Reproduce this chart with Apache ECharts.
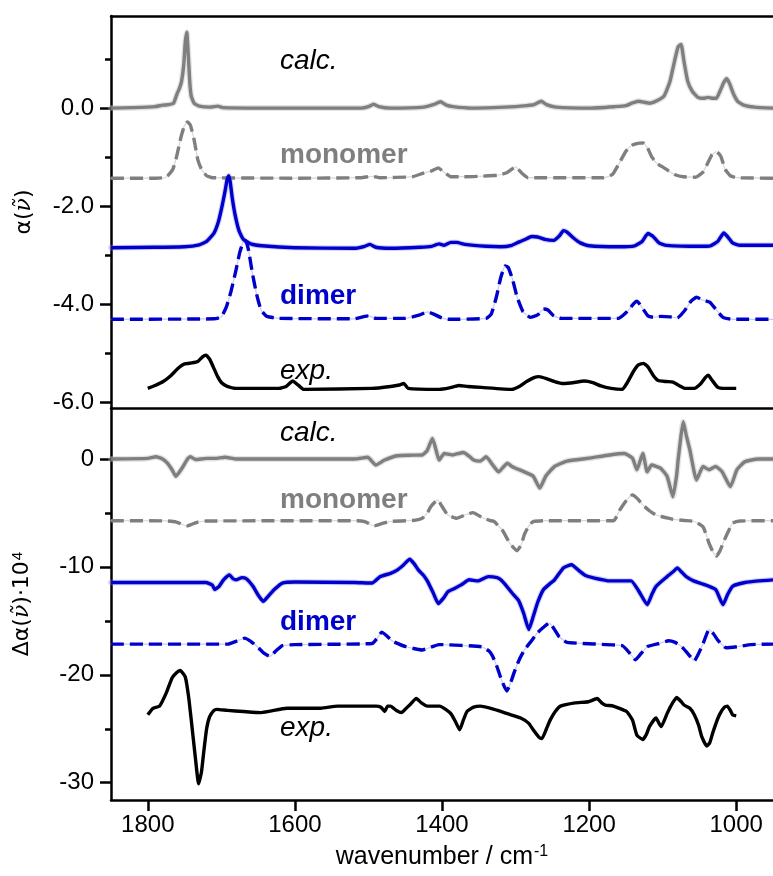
<!DOCTYPE html>
<html>
<head>
<meta charset="utf-8">
<script src="https://cdn.jsdelivr.net/npm/echarts@6/dist/echarts.min.js"></script>
<style>
html,body{margin:0;padding:0;background:#fff;}
#c{width:773px;height:876px;}
</style>
</head>
<body>
<div id="c"></div>
<script>
// ---------- data (wavenumber / cm-1, value) ----------
const xTicks = [1800, 1600, 1400, 1200, 1000];
const topMajor = [0, -2, -4, -6];
const topMinor = [1, -1, -3, -5];
const botMajor = [0, -10, -20, -30];
const botMinor = [-5, -15, -25];

// top panel: absorption alpha(nu), offset traces
const calcTop = [[1850,0],[1820,0.01],[1790,0.03],[1780,0.06],[1772,0.07],[1765,0.1],[1760,0.3],[1757,0.4],[1754,0.55],[1751,0.9],[1749,1.35],[1747,1.55],[1745,1.1],[1743,0.55],[1741,0.25],[1737,0.1],[1730,0.04],[1715,0.02],[1705,0.04],[1698,0.01],[1650,0],[1600,0],[1510,0],[1500,0.03],[1493,0.08],[1486,0.03],[1470,0],[1425,0.02],[1412,0.07],[1402,0.13],[1394,0.06],[1385,0.03],[1360,0],[1330,0.01],[1300,0.03],[1285,0.05],[1275,0.07],[1265,0.14],[1258,0.07],[1245,0.02],[1200,0],[1165,0.03],[1150,0.05],[1142,0.1],[1133,0.14],[1125,0.12],[1118,0.1],[1108,0.15],[1098,0.25],[1090,0.55],[1084,0.95],[1079,1.25],[1075,1.3],[1071,0.95],[1066,0.55],[1060,0.35],[1052,0.22],[1045,0.2],[1038,0.22],[1032,0.2],[1027,0.2],[1022,0.35],[1017,0.52],[1013,0.6],[1009,0.5],[1004,0.3],[998,0.14],[990,0.06],[975,0.02],[950,0]];
const monoTop = [[1850,-1.43],[1790,-1.43],[1775,-1.41],[1766,-1.25],[1761,-1.0],[1755,-0.6],[1750,-0.35],[1746,-0.28],[1742,-0.35],[1737,-0.65],[1732,-1.05],[1727,-1.25],[1720,-1.38],[1712,-1.42],[1600,-1.43],[1510,-1.42],[1496,-1.39],[1485,-1.42],[1440,-1.4],[1426,-1.33],[1414,-1.28],[1405,-1.22],[1398,-1.3],[1388,-1.4],[1370,-1.4],[1347,-1.39],[1325,-1.37],[1312,-1.32],[1300,-1.2],[1292,-1.32],[1283,-1.42],[1180,-1.42],[1168,-1.35],[1160,-1.15],[1150,-0.88],[1142,-0.76],[1134,-0.72],[1127,-0.71],[1121,-0.8],[1115,-0.99],[1108,-1.13],[1100,-1.2],[1092,-1.28],[1083,-1.36],[1072,-1.4],[1055,-1.41],[1045,-1.3],[1039,-1.13],[1033,-0.95],[1027,-0.89],[1021,-0.98],[1015,-1.25],[1008,-1.38],[999,-1.42],[950,-1.43]];
const dimerTop = [[1850,-2.85],[1790,-2.84],[1750,-2.83],[1730,-2.79],[1720,-2.72],[1710,-2.55],[1704,-2.32],[1699,-2.0],[1695,-1.7],[1692,-1.45],[1690,-1.38],[1688,-1.5],[1685,-1.85],[1681,-2.2],[1676,-2.5],[1670,-2.68],[1660,-2.77],[1645,-2.81],[1600,-2.85],[1519,-2.86],[1505,-2.82],[1498,-2.78],[1490,-2.84],[1470,-2.86],[1430,-2.84],[1414,-2.82],[1404,-2.77],[1397,-2.8],[1388,-2.74],[1380,-2.74],[1369,-2.78],[1340,-2.82],[1320,-2.83],[1305,-2.8],[1295,-2.73],[1287,-2.68],[1278,-2.62],[1270,-2.63],[1260,-2.68],[1248,-2.7],[1240,-2.6],[1235,-2.5],[1230,-2.53],[1222,-2.64],[1212,-2.75],[1200,-2.81],[1160,-2.83],[1138,-2.81],[1128,-2.72],[1120,-2.56],[1113,-2.62],[1105,-2.75],[1095,-2.8],[1050,-2.82],[1035,-2.81],[1025,-2.72],[1017,-2.55],[1012,-2.62],[1005,-2.75],[995,-2.8],[960,-2.8],[950,-2.8]];
const dimerTopCalc = [[1850,-4.31],[1710,-4.3],[1700,-4.26],[1693,-4.05],[1687,-3.75],[1680,-3.3],[1675,-2.95],[1670,-2.72],[1667,-2.7],[1663,-2.9],[1658,-3.35],[1652,-3.8],[1646,-4.12],[1638,-4.25],[1622,-4.29],[1520,-4.3],[1505,-4.25],[1500,-4.24],[1490,-4.29],[1450,-4.29],[1430,-4.22],[1420,-4.16],[1412,-4.2],[1402,-4.27],[1392,-4.31],[1340,-4.29],[1333,-4.2],[1326,-3.85],[1320,-3.45],[1314,-3.22],[1310,-3.25],[1304,-3.5],[1298,-3.85],[1290,-4.15],[1280,-4.27],[1270,-4.22],[1262,-4.1],[1256,-4.12],[1248,-4.24],[1238,-4.29],[1160,-4.29],[1148,-4.15],[1140,-4.0],[1135,-3.94],[1128,-4.07],[1120,-4.24],[1112,-4.27],[1103,-4.25],[1090,-4.26],[1080,-4.28],[1070,-4.13],[1062,-3.95],[1054,-3.86],[1045,-3.92],[1036,-3.96],[1028,-4.1],[1018,-4.27],[1005,-4.31],[950,-4.31]];
const expTop = [[1800,-5.72],[1790,-5.66],[1779,-5.58],[1768,-5.45],[1758,-5.3],[1750,-5.22],[1740,-5.2],[1732,-5.17],[1726,-5.08],[1721,-5.04],[1716,-5.12],[1711,-5.28],[1705,-5.48],[1700,-5.6],[1692,-5.68],[1680,-5.72],[1622,-5.72],[1612,-5.68],[1603,-5.57],[1595,-5.66],[1588,-5.74],[1495,-5.72],[1470,-5.68],[1458,-5.65],[1452,-5.62],[1446,-5.72],[1404,-5.74],[1390,-5.71],[1377,-5.66],[1365,-5.68],[1346,-5.7],[1305,-5.74],[1295,-5.68],[1285,-5.58],[1275,-5.5],[1268,-5.48],[1258,-5.52],[1247,-5.58],[1235,-5.62],[1220,-5.6],[1207,-5.57],[1195,-5.6],[1184,-5.67],[1170,-5.72],[1155,-5.74],[1148,-5.6],[1140,-5.38],[1133,-5.24],[1126,-5.21],[1120,-5.28],[1113,-5.45],[1106,-5.56],[1095,-5.58],[1086,-5.59],[1078,-5.66],[1069,-5.72],[1057,-5.72],[1048,-5.62],[1042,-5.5],[1038,-5.45],[1033,-5.55],[1025,-5.7],[1015,-5.72],[1000,-5.72]];

// bottom panel: VCD delta alpha(nu) * 1e4, offset traces
const calcBot = [[1850,0],[1800,0.05],[1789,0.2],[1780,0],[1773,-0.4],[1767,-1.0],[1762,-1.6],[1758,-1.3],[1752,-0.7],[1746,0],[1742,0.2],[1735,-0.05],[1720,0.05],[1709,0.05],[1695,0.15],[1680,0],[1634,0],[1519,0],[1501,0.15],[1490,-0.56],[1478,-0.1],[1461,0.3],[1440,0.35],[1427,0.37],[1420,0.8],[1413,1.9],[1408,0.8],[1404,-0.1],[1397,0.5],[1386,0.37],[1371,0.6],[1362,0.2],[1357,-0.1],[1348,-0.2],[1340,0.2],[1331,-0.56],[1323,-1.2],[1316,-0.7],[1311,-0.4],[1305,-0.7],[1300,-0.86],[1288,-1.2],[1276,-1.6],[1267,-2.7],[1259,-1.6],[1247,-0.7],[1230,-0.2],[1201,0.06],[1172,0.37],[1152,0.5],[1141,0.06],[1135,-1.0],[1127,0.5],[1121,-1.2],[1115,-0.56],[1103,-0.86],[1094,-1.6],[1086,-3.5],[1081,-1.5],[1079,-0.1],[1075,2.2],[1072,3.45],[1068,2.2],[1063,0.83],[1054,-1.95],[1045,-0.7],[1037,-1.0],[1028,-0.7],[1019,-1.2],[1008,-2.56],[999,-1.0],[988,-0.25],[970,0],[950,0]];
const monoBot = [[1850,-5.72],[1775,-5.74],[1761,-5.85],[1752,-6.1],[1746,-6.2],[1740,-6.05],[1732,-5.85],[1720,-5.75],[1515,-5.72],[1505,-5.8],[1492,-6.2],[1482,-6.0],[1472,-5.8],[1440,-5.7],[1427,-5.5],[1420,-5.0],[1415,-4.4],[1406,-3.8],[1399,-4.5],[1392,-5.2],[1380,-5.5],[1369,-5.2],[1358,-4.97],[1346,-5.4],[1335,-5.7],[1329,-5.8],[1317,-6.7],[1308,-7.8],[1298,-8.5],[1292,-7.9],[1288,-7.0],[1282,-6.2],[1276,-5.8],[1260,-5.72],[1167,-5.72],[1158,-4.7],[1150,-3.9],[1141,-3.33],[1134,-3.7],[1127,-4.26],[1118,-4.8],[1109,-5.2],[1095,-5.45],[1086,-5.6],[1070,-5.7],[1057,-5.8],[1045,-6.3],[1037,-7.8],[1031,-8.7],[1027,-9.0],[1022,-8.5],[1016,-7.5],[1010,-6.6],[1005,-5.95],[995,-5.75],[950,-5.72]];
const dimerBot = [[1850,-11.45],[1721,-11.45],[1712,-11.7],[1709,-12.1],[1703,-11.8],[1697,-11.2],[1689,-10.74],[1684,-11.1],[1680,-11.2],[1672,-11.0],[1666,-11.1],[1657,-11.8],[1650,-12.6],[1643,-13.2],[1636,-12.7],[1628,-12.1],[1617,-11.5],[1600,-11.4],[1519,-11.45],[1495,-11.5],[1484,-10.9],[1470,-10.6],[1461,-10.3],[1452,-9.8],[1444,-9.29],[1438,-9.7],[1432,-10.3],[1425,-10.8],[1420,-11.3],[1412,-12.4],[1405,-13.4],[1398,-12.9],[1392,-12.3],[1383,-12.0],[1374,-11.67],[1363,-11.2],[1351,-11.3],[1337,-10.9],[1325,-11.0],[1320,-11.2],[1312,-11.8],[1305,-12.4],[1296,-13.1],[1289,-14.3],[1282,-15.8],[1276,-14.6],[1270,-13.3],[1262,-12.1],[1254,-11.6],[1247,-11.2],[1235,-10.1],[1224,-9.8],[1213,-10.4],[1205,-10.8],[1195,-11.0],[1172,-11.3],[1143,-11.3],[1132,-12.3],[1121,-13.5],[1115,-12.6],[1109,-11.8],[1094,-10.9],[1085,-10.4],[1080,-10.1],[1074,-10.5],[1068,-10.9],[1058,-11.3],[1045,-11.6],[1028,-12.1],[1018,-13.5],[1012,-12.6],[1005,-11.8],[988,-11.45],[970,-11.3],[950,-11.2]];
const dimerBotCalc = [[1850,-17.16],[1691,-17.16],[1680,-16.9],[1668,-16.6],[1660,-16.9],[1651,-17.4],[1642,-18.0],[1634,-18.3],[1626,-17.8],[1617,-17.3],[1600,-17.2],[1495,-17.1],[1488,-16.6],[1482,-16.05],[1475,-16.4],[1467,-16.9],[1449,-17.4],[1427,-17.7],[1404,-17.2],[1346,-17.4],[1336,-17.8],[1331,-18.3],[1325,-19.3],[1319,-20.5],[1312,-21.5],[1307,-20.8],[1302,-19.8],[1295,-18.6],[1288,-17.7],[1280,-17.0],[1270,-16.1],[1262,-15.6],[1254,-15.2],[1248,-15.7],[1241,-16.45],[1230,-17.0],[1155,-17.3],[1146,-17.9],[1137,-18.6],[1129,-18.0],[1121,-17.4],[1105,-17.1],[1092,-16.85],[1083,-17.0],[1074,-17.4],[1065,-18.1],[1057,-18.7],[1051,-18.0],[1045,-17.1],[1040,-16.2],[1037,-15.8],[1031,-16.2],[1025,-16.8],[1014,-17.5],[999,-17.4],[980,-17.2],[950,-17.16]];
const expBot = [[1800,-23.7],[1793,-23.1],[1784,-22.9],[1775,-21.7],[1767,-20.3],[1761,-19.8],[1756,-19.6],[1749,-20.2],[1744,-22.3],[1738,-26.0],[1734,-28.5],[1731,-30.1],[1727,-29.0],[1724,-27.2],[1720,-25.0],[1716,-23.9],[1710,-23.3],[1706,-23.2],[1692,-23.3],[1670,-23.4],[1646,-23.5],[1611,-23.1],[1565,-23.1],[1542,-22.9],[1490,-22.9],[1483,-23.0],[1478,-23.4],[1474,-22.9],[1470,-22.9],[1462,-23.3],[1455,-23.5],[1450,-23.2],[1444,-22.8],[1435,-22.2],[1428,-22.6],[1420,-22.9],[1403,-22.9],[1395,-23.2],[1388,-23.6],[1382,-24.3],[1376,-25.1],[1371,-24.2],[1366,-23.4],[1357,-23.0],[1348,-22.9],[1329,-23.2],[1311,-23.6],[1293,-24.0],[1282,-24.5],[1276,-25.1],[1268,-25.8],[1264,-25.9],[1258,-25.0],[1253,-24.2],[1246,-23.4],[1239,-22.9],[1219,-22.6],[1201,-22.5],[1189,-22.2],[1183,-22.6],[1178,-22.8],[1167,-22.9],[1149,-23.4],[1141,-24.2],[1135,-25.6],[1127,-26.0],[1122,-25.5],[1118,-24.8],[1109,-24.0],[1105,-24.5],[1102,-24.8],[1094,-23.6],[1089,-22.9],[1081,-22.1],[1076,-22.4],[1071,-22.8],[1063,-23.1],[1057,-23.7],[1051,-24.7],[1047,-25.7],[1040,-26.6],[1036,-26.3],[1032,-25.4],[1027,-24.4],[1022,-23.6],[1016,-23.0],[1012,-22.9],[1008,-23.3],[1005,-23.7],[1000,-23.8]];

// ---------- styling ----------
const FONT = 'Liberation Sans';
const GRAY = '#7f7f7f';
const BLUE = '#0000cc';
const AXW = 2.5;

const chart = echarts.init(document.getElementById('c'), null, {renderer: 'canvas'});

function xAx(gridIndex, opts) {
  return Object.assign({
    type: 'value', gridIndex: gridIndex, min: 950, max: 1850, inverse: true,
    axisLine: {show: true, onZero: false, lineStyle: {color: '#000', width: AXW}},
    axisTick: {show: false}, axisLabel: {show: false}, splitLine: {show: false}
  }, opts || {});
}
function yMajor(gridIndex, min, max, vals, fmt, name, nameRich) {
  return {
    type: 'value', gridIndex: gridIndex, min: min, max: max, position: 'left',
    axisLine: {show: true, onZero: false, lineStyle: {color: '#000', width: AXW}},
    axisTick: {show: true, length: 11, customValues: vals, lineStyle: {color: '#000', width: AXW}},
    axisLabel: {show: true, customValues: vals, formatter: fmt, margin: 17,
      fontFamily: FONT, fontSize: 24, color: '#000'},
    splitLine: {show: false},
    name: name, nameLocation: 'middle', nameGap: 76,
    nameTextStyle: {rich: nameRich}
  };
}
function yMinor(gridIndex, min, max, vals) {
  return {
    type: 'value', gridIndex: gridIndex, min: min, max: max, position: 'left',
    axisLine: {show: false},
    axisTick: {show: true, length: 6, customValues: vals, lineStyle: {color: '#000', width: AXW}},
    axisLabel: {show: false}, splitLine: {show: false}
  };
}
const nameRich = {
  g: {fontFamily: 'DejaVu Sans', fontSize: 22, color: '#000'},
  i: {fontFamily: 'DejaVu Serif', fontStyle: 'italic', fontSize: 22, color: '#000'},
  s: {fontFamily: FONT, fontSize: 15, color: '#000', verticalAlign: 'top', padding: [0, 0, 10, 1]}
};

function band(data, xi, yi, color, w, op) {
  return {type: 'line', data: data, xAxisIndex: xi, yAxisIndex: yi, symbol: 'none', silent: true,
    smooth: 0.15, lineStyle: {color: color, width: w, opacity: op, cap: 'round', join: 'round'}, z: 1};
}
function line(data, xi, yi, color, dashed) {
  return {type: 'line', data: data, xAxisIndex: xi, yAxisIndex: yi, symbol: 'none', silent: true,
    smooth: 0.15,
    lineStyle: {color: color, width: 3.4, type: dashed ? [13, 6] : 'solid', cap: 'butt', join: 'round'}, z: 3};
}

const topYMin = -6.12, topYMax = 1.88;
const botYMin = -31.6, botYMax = 4.72;

const option = {
  animation: false,
  backgroundColor: '#fff',
  grid: [
    {left: 111, top: 16, width: 669, height: 392},
    {left: 111, top: 408, width: 669, height: 392}
  ],
  xAxis: [
    xAx(0, {position: 'bottom'}),
    xAx(0, {position: 'top'}),
    xAx(1, {position: 'bottom',
      axisTick: {show: true, length: 11, customValues: xTicks, lineStyle: {color: '#000', width: AXW}},
      axisLabel: {show: true, customValues: xTicks, formatter: v => String(v), margin: 13,
        fontFamily: FONT, fontSize: 24, color: '#000'},
      name: '{a|wavenumber / cm}{s|-1}', nameLocation: 'middle', nameGap: 44,
      nameTextStyle: {rich: {
        a: {fontFamily: FONT, fontSize: 25, color: '#000'},
        s: {fontFamily: FONT, fontSize: 16, color: '#000', verticalAlign: 'top', padding: [0, 0, 11, 1]}
      }}
    })
  ],
  yAxis: [
    yMajor(0, topYMin, topYMax, topMajor, v => v.toFixed(1), '{g|α(}{i|ν\u0303}{g|)}', nameRich),
    yMinor(0, topYMin, topYMax, topMinor),
    yMajor(1, botYMin, botYMax, botMajor, v => String(v), '{g|Δα(}{i|ν\u0303}{g|)·10}{s|4}', nameRich),
    yMinor(1, botYMin, botYMax, botMinor)
  ],
  series: [
    band(calcTop, 0, 0, '#b8b8b8', 6, 0.4),
    band(monoTop, 0, 0, '#d8d8d8', 1.2, 1),
    band(dimerTop, 0, 0, '#8a8af0', 5.5, 0.4),
    band(dimerTopCalc, 0, 0, '#c8c8f4', 1.2, 1),
    line(calcTop, 0, 0, GRAY, false),
    line(monoTop, 0, 0, GRAY, true),
    line(dimerTop, 0, 0, BLUE, false),
    line(dimerTopCalc, 0, 0, BLUE, true),
    line(expTop, 0, 0, '#000', false),
    band(calcBot, 2, 2, '#b8b8b8', 6, 0.4),
    band(monoBot, 2, 2, '#d8d8d8', 1.2, 1),
    band(dimerBot, 2, 2, '#8a8af0', 5.5, 0.4),
    band(dimerBotCalc, 2, 2, '#c8c8f4', 1.2, 1),
    line(calcBot, 2, 2, GRAY, false),
    line(monoBot, 2, 2, GRAY, true),
    line(dimerBot, 2, 2, BLUE, false),
    line(dimerBotCalc, 2, 2, BLUE, true),
    line(expBot, 2, 2, '#000', false)
  ],
  graphic: [
    {type: 'text', left: 280, top: 47, style: {text: 'calc.', font: 'italic 28px "Liberation Sans"', fill: '#000'}},
    {type: 'text', left: 280, top: 141, style: {text: 'monomer', font: 'bold 28px "Liberation Sans"', fill: GRAY}},
    {type: 'text', left: 280, top: 282, style: {text: 'dimer', font: 'bold 28px "Liberation Sans"', fill: BLUE}},
    {type: 'text', left: 280, top: 357, style: {text: 'exp.', font: 'italic 28px "Liberation Sans"', fill: '#000'}},
    {type: 'text', left: 280, top: 419, style: {text: 'calc.', font: 'italic 28px "Liberation Sans"', fill: '#000'}},
    {type: 'text', left: 280, top: 486, style: {text: 'monomer', font: 'bold 28px "Liberation Sans"', fill: GRAY}},
    {type: 'text', left: 280, top: 608, style: {text: 'dimer', font: 'bold 28px "Liberation Sans"', fill: BLUE}},
    {type: 'text', left: 280, top: 714, style: {text: 'exp.', font: 'italic 28px "Liberation Sans"', fill: '#000'}}
  ]
};
chart.setOption(option);
</script>
</body>
</html>
